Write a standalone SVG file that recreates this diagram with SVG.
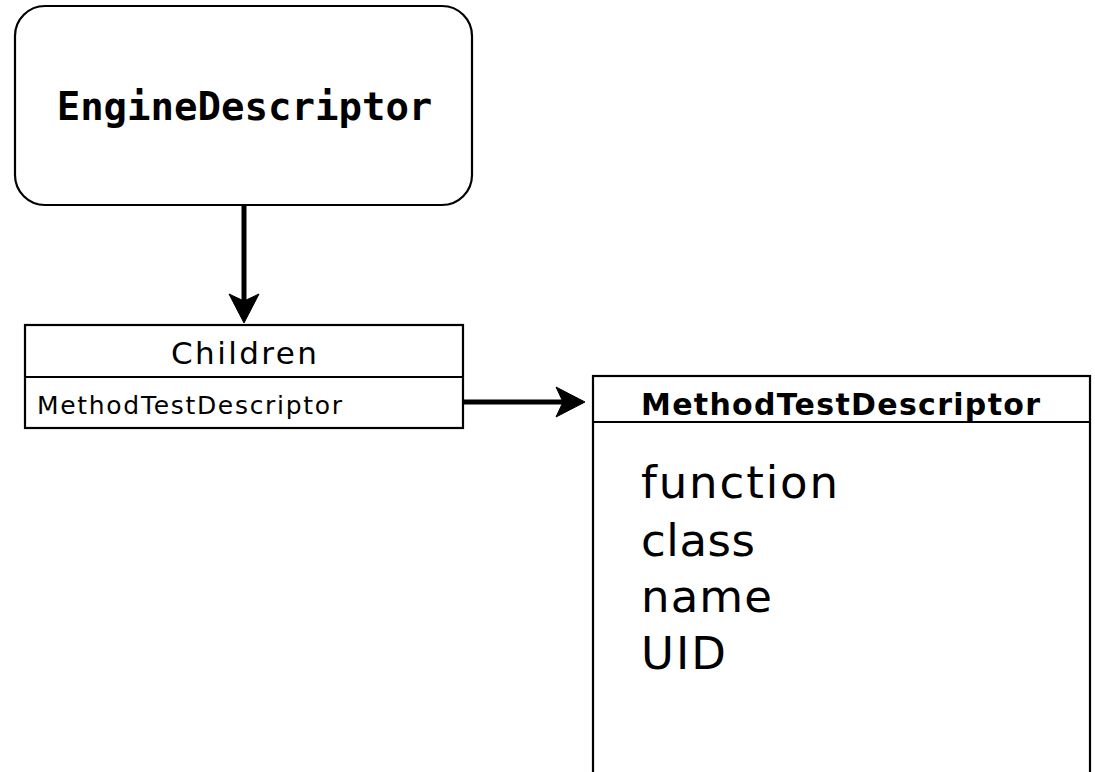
<svg xmlns="http://www.w3.org/2000/svg" width="1095" height="772" viewBox="0 0 1095 772">
<style>
.box{fill:#fff;stroke:#000;stroke-width:2.2}
.conn{stroke:#000;stroke-width:5;fill:none}
.head{fill:#000;stroke:#000;stroke-width:1}
.g{font-family:"DejaVu Sans",sans-serif;fill:#000}
.mono{font-family:"DejaVu Sans Mono",monospace;font-weight:bold;fill:#000}
</style>
<rect width="1095" height="772" fill="#fff"/>
<g id="engine">
<rect class="box" x="15" y="6" width="457" height="199" rx="30" ry="30"/>
<text class="mono" x="244.5" y="120" font-size="39" text-anchor="middle">EngineDescriptor</text>
</g>
<g id="children">
<rect class="box" x="25" y="325" width="438" height="103"/>
<line x1="25" y1="377" x2="463" y2="377" stroke="#000" stroke-width="2.2"/>
<text class="g" x="244" y="364" font-size="31" text-anchor="middle" textLength="146" lengthAdjust="spacing">Children</text>
<text class="g" x="37" y="414" font-size="25" textLength="305" lengthAdjust="spacing">MethodTestDescriptor</text>
</g>
<g id="method">
<rect class="box" x="593" y="376" width="497" height="410"/>
<line x1="593" y1="422" x2="1090" y2="422" stroke="#000" stroke-width="2.2"/>
<text class="g" x="641" y="415" font-size="30" font-weight="bold" textLength="399" lengthAdjust="spacing">MethodTestDescriptor</text>
<text class="g" x="641" y="498" font-size="45" textLength="197" lengthAdjust="spacing">function</text>
<text class="g" x="641" y="556" font-size="45" textLength="114" lengthAdjust="spacing">class</text>
<text class="g" x="641" y="612" font-size="45" textLength="131" lengthAdjust="spacing">name</text>
<text class="g" x="641" y="669" font-size="45" textLength="85" lengthAdjust="spacing">UID</text>
</g>
<g id="connectors">
<line class="conn" x1="244" y1="205" x2="244" y2="305"/>
<path class="head" d="M244,323 L229,294 L244,301 L259,294 Z"/>
<line class="conn" x1="463" y1="402" x2="565" y2="402"/>
<path class="head" d="M585,402 L556,387 L563,402 L556,417 Z"/>
</g>
</svg>
